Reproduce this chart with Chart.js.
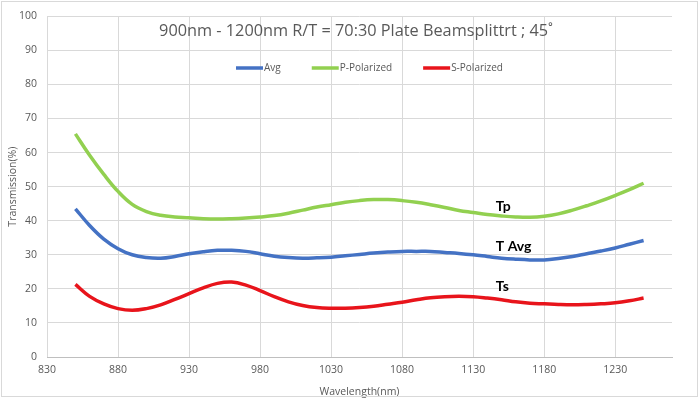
<!DOCTYPE html>
<html>
<head>
<meta charset="utf-8">
<script src="https://cdn.jsdelivr.net/npm/chart.js@4/dist/chart.umd.min.js"></script>
<style>
  html, body { margin: 0; padding: 0; background: #fff; }
  #wrap { width: 699px; height: 398px; position: relative; }
</style>
</head>
<body>
<div id="wrap"><canvas id="chart"></canvas></div>
<script>
// data (every 10 nm)
const chartTitle = "900nm - 1200nm R/T = 70:30 Plate Beamsplittrt ; 45˚";
const wavelengths = [850, 860, 870, 880, 890, 900, 910, 920, 930, 940, 950, 960, 970, 980, 990, 1000, 1010, 1020, 1030, 1040, 1050,
                     1060, 1070, 1080, 1090, 1100, 1110, 1120, 1130, 1140, 1150, 1160, 1170, 1180, 1190, 1200, 1210, 1220, 1230, 1240, 1250];
const avgValues = [43.5, 38.6, 34.6, 31.8, 30.0, 29.2, 29.0, 29.5, 30.3, 30.9, 31.3, 31.3, 31.0, 30.3, 29.6, 29.2, 29.0, 29.1, 29.3, 29.7, 30.1,
                   30.5, 30.8, 31.0, 31.0, 31.0, 30.7, 30.4, 30.0, 29.5, 29.0, 28.7, 28.5, 28.5, 28.9, 29.5, 30.3, 31.1, 32.0, 33.1, 34.2];
const pValues   = [65.5, 59.2, 53.6, 48.6, 44.8, 42.7, 41.6, 41.1, 40.9, 40.6, 40.5, 40.6, 40.8, 41.1, 41.5, 42.2, 43.1, 44.0, 44.7, 45.4, 45.9,
                   46.2, 46.2, 45.9, 45.4, 44.7, 43.9, 43.0, 42.4, 41.8, 41.4, 41.1, 41.0, 41.3, 42.0, 43.1, 44.4, 45.8, 47.4, 49.1, 51.0];
const sValues   = [21.3, 17.8, 15.6, 14.2, 13.7, 14.2, 15.3, 16.9, 18.6, 20.3, 21.6, 22.0, 21.1, 19.5, 17.7, 16.2, 15.1, 14.5, 14.3, 14.3, 14.5,
                   14.9, 15.5, 16.1, 16.8, 17.4, 17.7, 17.8, 17.7, 17.3, 16.8, 16.2, 15.8, 15.6, 15.4, 15.3, 15.4, 15.6, 15.9, 16.5, 17.3];
const seriesNames = ["Avg", "P-Polarized", "S-Polarized"];
const seriesColors = ["#4472C4", "#92D050", "#E8141B"];
const xTicks = [830, 880, 930, 980, 1030, 1080, 1130, 1180, 1230];
const curveLabels = ["Tp", "T Avg", "Ts"];
const labelX = [1146, 1146, 1146];
const labelY = [44.2, 32.5, 20.7];

const gray = "#595959";

// title, legend, curve labels and outer border drawn over the plot like Excel does
const overlayPlugin = {
  id: 'overlay',
  beforeDraw(chart) {
    const c = chart.ctx;
    c.save();
    c.fillStyle = '#fff';
    c.fillRect(0, 0, chart.width, chart.height);
    c.restore();
  },
  afterDraw(chart) {
    const c = chart.ctx;
    const xs = chart.scales.x, ys = chart.scales.y;
    c.save();
    // border
    c.strokeStyle = '#d9d9d9';
    c.lineWidth = 1;
    c.strokeRect(1.5, 1.5, chart.width - 3, chart.height - 3);

    // title
    c.fillStyle = gray;
    c.font = '16.3px "Open Sans"';
    c.textAlign = 'center';
    c.textBaseline = 'middle';
    c.fillText(chartTitle, 356, 31);

    // legend
    c.font = '10px "Open Sans"';
    c.textAlign = 'left';
    let lx = 236;
    const ly = 68;
    seriesNames.forEach((name, i) => {
      c.strokeStyle = seriesColors[i];
      c.lineWidth = 3.5;
      c.beginPath();
      c.moveTo(lx, ly);
      c.lineTo(lx + 27, ly);
      c.stroke();
      c.fillStyle = gray;
      c.fillText(name, lx + 28, ly);
      lx += 28 + c.measureText(name).width + 31;
    });

    // curve labels
    c.fillStyle = '#000';
    c.font = 'bold 14px Lato';
    curveLabels.forEach((t, i) => {
      c.fillText(t, xs.getPixelForValue(labelX[i]), ys.getPixelForValue(labelY[i]));
    });
    c.restore();
  }
};

const mkSet = (i, vals) => ({
  label: seriesNames[i],
  data: wavelengths.map((w, k) => ({ x: w, y: vals[k] })),
  borderColor: seriesColors[i],
  backgroundColor: seriesColors[i],
  borderWidth: 3.5,
  pointRadius: 0,
  tension: 0.4,
  fill: false
});

new Chart(document.getElementById('chart'), {
  type: 'line',
  data: {
    datasets: [mkSet(0, avgValues), mkSet(1, pValues), mkSet(2, sValues)]
  },
  options: {
    responsive: true,
    maintainAspectRatio: false,
    animation: false,
    layout: { padding: { left: 0, right: 27, top: 15, bottom: 0 } },
    plugins: {
      legend: { display: false },
      title: { display: false },
      tooltip: { enabled: false }
    },
    scales: {
      x: {
        type: 'linear',
        min: 830,
        max: 1270,
        afterBuildTicks: (scale) => { scale.ticks = xTicks.map(v => ({ value: v })); },
        afterFit: (scale) => { scale.height = 41; },
        grid: { color: '#d9d9d9', drawTicks: false },
        border: { color: '#bfbfbf' },
        ticks: { color: gray, font: { family: 'Open Sans', size: 10.5 }, padding: 7, maxRotation: 0, callback: (v) => String(v) },
        title: { display: true, text: 'Wavelength(nm)', color: gray, font: { family: 'Open Sans', size: 10.5 }, padding: { top: 2, bottom: 0 } }
      },
      y: {
        min: 0,
        max: 100,
        afterFit: (scale) => { scale.width = 47; },
        grid: { color: '#d9d9d9', drawTicks: false },
        border: { display: false },
        ticks: { stepSize: 10, color: gray, font: { family: 'Open Sans', size: 10.5 }, padding: 10 },
        title: { display: true, text: 'Transmission(%)', color: gray, font: { family: 'Open Sans', size: 10.5 }, padding: { top: 7, bottom: 0 } }
      }
    }
  },
  plugins: [overlayPlugin]
});
</script>
</body>
</html>
